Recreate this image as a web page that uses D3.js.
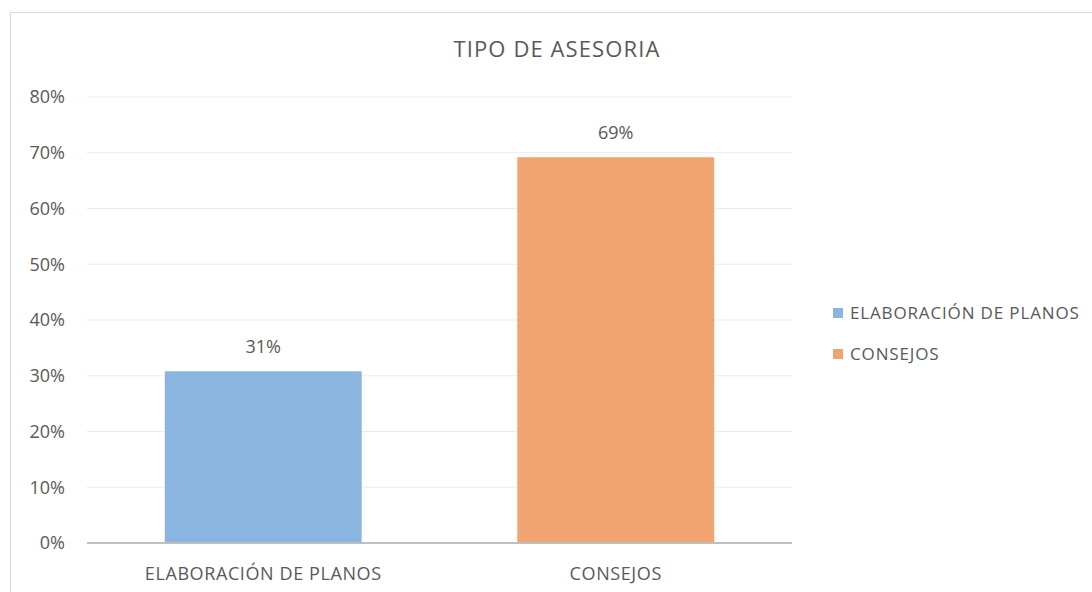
<!DOCTYPE html>
<html>
<head>
<meta charset="utf-8">
<script src="https://cdn.jsdelivr.net/npm/d3@7"></script>
<style>
  body { margin: 0; background: #fff; }
  text { font-family: "Open Sans", sans-serif; fill: #595959; }
</style>
</head>
<body>
<div id="chart"></div>
<script>
const categories = ["ELABORACIÓN DE PLANOS", "CONSEJOS"];
const values = [0.308, 0.692];
const valueLabels = ["31%", "69%"];
const colors = ["#8BB5E1", "#F1A46F"];
const yTicks = [0, 0.1, 0.2, 0.3, 0.4, 0.5, 0.6, 0.7, 0.8];

const W = 1092, H = 592;
const margin = { top: 97, right: 300, bottom: 49, left: 87 };
const width = W - margin.left - margin.right;
const height = H - margin.top - margin.bottom;

const svg = d3.select("#chart")
  .append("svg")
  .attr("width", W)
  .attr("height", H);

// chart border
svg.append("rect")
  .attr("x", 10.5).attr("y", 12.5)
  .attr("width", W + 20).attr("height", H + 20)
  .attr("fill", "none")
  .attr("stroke", "#D9D9D9");

svg.append("text")
  .attr("x", 557).attr("y", 57)
  .attr("text-anchor", "middle")
  .style("font-size", "22px")
  .style("letter-spacing", "1.1px")
  .text("TIPO DE ASESORIA");

const g = svg.append("g")
  .attr("transform", `translate(${margin.left},${margin.top})`);

const x = d3.scaleBand().domain(categories).range([0, width]).padding(0);
const y = d3.scaleLinear().domain([0, 0.8]).range([height, 0]);

// grid
g.selectAll(".grid")
  .data(yTicks.slice(1))
  .join("line")
  .attr("x1", 0).attr("x2", width)
  .attr("y1", d => y(d)).attr("y2", d => y(d))
  .attr("stroke", "#EBEBEB")
  .attr("stroke-width", 1);

// y labels
g.selectAll(".ylab")
  .data(yTicks)
  .join("text")
  .attr("x", -22)
  .attr("y", d => y(d))
  .attr("dy", "0.35em")
  .attr("text-anchor", "end")
  .style("font-size", "18px")
  .text(d3.format(".0%"));

// bars (gap width 79%)
const barW = x.bandwidth() / 1.79;
g.selectAll(".bar")
  .data(categories)
  .join("rect")
  .attr("x", d => x(d) + (x.bandwidth() - barW) / 2)
  .attr("y", (d, i) => y(values[i]))
  .attr("width", barW)
  .attr("height", (d, i) => height - y(values[i]))
  .attr("fill", (d, i) => colors[i]);

// value labels
g.selectAll(".vlab")
  .data(categories)
  .join("text")
  .attr("x", d => x(d) + x.bandwidth() / 2)
  .attr("y", (d, i) => y(values[i]) - 18)
  .attr("text-anchor", "middle")
  .style("font-size", "18px")
  .text((d, i) => valueLabels[i]);

// x axis line
g.append("line")
  .attr("x1", 0).attr("x2", width)
  .attr("y1", height).attr("y2", height)
  .attr("stroke", "#BFBFBF")
  .attr("stroke-width", 2);

// x labels
g.selectAll(".xlab")
  .data(categories)
  .join("text")
  .attr("x", d => x(d) + x.bandwidth() / 2)
  .attr("y", height + 37)
  .attr("text-anchor", "middle")
  .style("font-size", "18px")
  .style("letter-spacing", "0.6px")
  .text(d => d);

// legend
const legend = svg.append("g").attr("transform", "translate(833,313)");
legend.selectAll("rect")
  .data(categories)
  .join("rect")
  .attr("x", 0)
  .attr("y", (d, i) => i * 41 - 5)
  .attr("width", 10).attr("height", 10)
  .attr("fill", (d, i) => colors[i]);
legend.selectAll("text")
  .data(categories)
  .join("text")
  .attr("x", 17)
  .attr("y", (d, i) => i * 41)
  .attr("dy", "0.35em")
  .style("font-size", "17px")
  .style("letter-spacing", "0.85px")
  .text(d => d);
</script>
</body>
</html>
